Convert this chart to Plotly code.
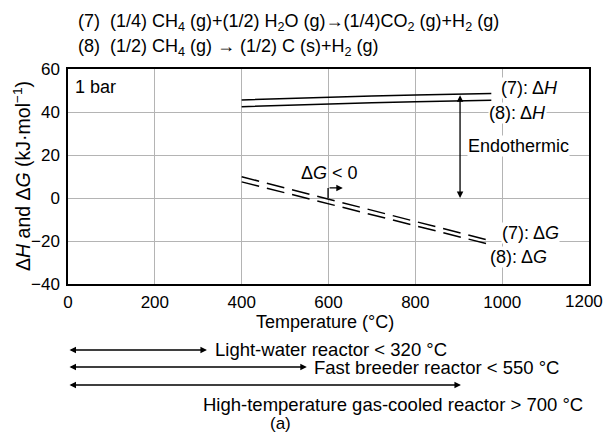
import plotly.graph_objects as go

# ---------------- data ----------------
temps = [400, 500, 600, 700, 800, 900, 975]
dH7 = [45.6, 46.3, 46.9, 47.4, 47.9, 48.3, 48.6]
dH8 = [42.5, 43.2, 43.8, 44.3, 44.8, 45.2, 45.5]
dG7 = [9.9, 4.7, -0.5, -5.7, -10.9, -16.1, -20.0]
dG8 = [7.5, 2.4, -2.7, -7.8, -12.9, -18.0, -21.8]

x_ticks = [0, 200, 400, 600, 800, 1000, 1200]
y_ticks = [-40, -20, 0, 20, 40, 60]

reactor_labels = ["Light-water reactor < 320 °C",
                  "Fast breeder reactor < 550 °C",
                  "High-temperature gas-cooled reactor > 700 °C"]
reactor_limits = [320, 550, 905]

NB = "\u00a0"
eq7 = ("(7)" + NB * 2 + "(1/4) CH<sub>4</sub> (g)+(1/2) H<sub>2</sub>O (g)→(1/4)CO<sub>2</sub> (g)+H<sub>2</sub> (g)")
eq8 = ("(8)" + NB * 2 + "(1/2) CH<sub>4</sub> (g) → (1/2) C (s)+H<sub>2</sub> (g)")

FONT = "Liberation Sans, Arial, sans-serif"
FS = 18
FS_EQ = 18
FS_BOT = 18.5
FS_TICK = 17

# the browser's default body margin (8 px on every side)
OFF = 8
W, H = 612 - 2 * OFF, 441 - 2 * OFF
# plot area in page pixels -> figure pixels
L, R, T, B = 68, 589, 69, 284
L, R, T, B = L - OFF, R - OFF, T - OFF, B - OFF


def px(xp):
    return (xp - OFF - L) / (R - L)


def py(yp):
    return (B - (yp - OFF)) / (B - T)


fig = go.Figure()
line_solid = dict(color="black", width=1.5)
line_dash = dict(color="black", width=1.5, dash="18px,8px")
fig.add_trace(go.Scatter(x=temps, y=dH7, mode="lines", line=line_solid, showlegend=False))
fig.add_trace(go.Scatter(x=temps, y=dH8, mode="lines", line=line_solid, showlegend=False))
fig.add_trace(go.Scatter(x=temps, y=dG7, mode="lines", line=line_dash, showlegend=False))
fig.add_trace(go.Scatter(x=temps, y=dG8, mode="lines", line=line_dash, showlegend=False))

ann = []
fnt = dict(family=FONT, size=FS, color="black")
fnt_eq = dict(family=FONT, size=FS_EQ, color="black")
fnt_bot = dict(family=FONT, size=FS_BOT, color="black")
fnt_tick = dict(family=FONT, size=FS_TICK, color="black")

# equations above
ann.append(dict(x=px(76), y=py(23), xref="paper", yref="paper", text=eq7, showarrow=False,
                xanchor="left", yanchor="middle", font=fnt_eq))
ann.append(dict(x=px(76), y=py(48), xref="paper", yref="paper", text=eq8, showarrow=False,
                xanchor="left", yanchor="middle", font=fnt_eq))

# axis titles
ann.append(dict(x=px(22), y=py(176), xref="paper", yref="paper",
                text="Δ<i>H</i> and Δ<i>G</i> (kJ·mol<sup>−1</sup>)", textangle=-90,
                showarrow=False, xanchor="center", yanchor="middle",
                font=dict(family=FONT, size=19.5, color="black")))
ann.append(dict(x=px(325), y=py(322), xref="paper", yref="paper", text="Temperature (°C)",
                showarrow=False, xanchor="center", yanchor="middle", font=fnt))

# last x tick label, kept inside the page edge
ann.append(dict(x=px(605), y=0, xref="paper", yref="paper", text=str(x_ticks[-1]),
                showarrow=False, xanchor="right", yanchor="top", yshift=-6, font=fnt_tick))


def lab(x, y, t, anchor="left", bg="white"):
    return dict(x=x, y=y, xref="x", yref="y", text=t, showarrow=False, xanchor=anchor,
                yanchor="middle", font=fnt, bgcolor=bg, borderpad=0)


ann.append(lab(14, 51.6, "1 bar", bg="rgba(0,0,0,0)"))
ann.append(lab(995, 51.2, "(7): Δ<i>H</i>"))
ann.append(lab(967, 39.5, "(8): Δ<i>H</i>"))
ann.append(lab(920, 24.2, "Endothermic"))
ann.append(lab(997, -16.3, "(7): Δ<i>G</i>"))
ann.append(lab(970, -27.4, "(8): Δ<i>G</i>"))
ann.append(lab(535, 11.6, "Δ<i>G</i> < 0", bg="rgba(0,0,0,0)"))

# endothermic double arrow
ann.append(dict(x=903, y=0, xref="x", yref="y", ax=903, ay=48.5, axref="x", ayref="y",
                showarrow=True, arrowhead=2, arrowside="end+start", arrowsize=1,
                arrowwidth=1.3, arrowcolor="black", text=""))
# dG<0 bracket arrow
ann.append(dict(x=633, y=4.7, xref="x", yref="y", ax=599, ay=4.7, axref="x", ayref="y",
                showarrow=True, arrowhead=2, arrowsize=1, arrowwidth=1.3,
                arrowcolor="black", text=""))

shapes = [dict(type="line", xref="x", yref="y", x0=599, x1=599, y0=0, y1=4.7,
               line=dict(color="black", width=1.3))]

# reactor ranges below the axis
arrow_y = [350, 367, 385]
for lim, yy in zip(reactor_limits, arrow_y):
    ann.append(dict(x=lim, y=py(yy), xref="x", yref="paper", ax=-(lim * (R - L) / 1200), ay=0,
                    text="", showarrow=True, arrowhead=2, arrowside="end+start",
                    arrowsize=1, arrowwidth=1.3, arrowcolor="black"))
ann.append(dict(x=reactor_limits[0] + 15, y=py(349), xref="x", yref="paper",
                text=reactor_labels[0], showarrow=False, xanchor="left", yanchor="middle", font=fnt_bot))
ann.append(dict(x=reactor_limits[1] + 12, y=py(367), xref="x", yref="paper",
                text=reactor_labels[1], showarrow=False, xanchor="left", yanchor="middle", font=fnt_bot))
ann.append(dict(x=px(585), y=py(404), xref="paper", yref="paper",
                text=reactor_labels[2], showarrow=False, xanchor="right", yanchor="middle", font=fnt_bot))
ann.append(dict(x=px(280), y=py(423), xref="paper", yref="paper",
                text="(a)", showarrow=False, xanchor="center", yanchor="middle",
                font=dict(family=FONT, size=17, color="black")))

axis_common = dict(showgrid=True, gridcolor="#b4b4b4", gridwidth=1.3, showline=True,
                   linecolor="black", linewidth=1.5, mirror=True, ticks="", zeroline=False,
                   automargin=False, tickfont=fnt_tick)

fig.update_layout(
    width=W, height=H,
    margin=dict(l=L, r=W - R, t=T, b=H - B, pad=0, autoexpand=False),
    paper_bgcolor="white", plot_bgcolor="white",
    xaxis=dict(range=[0, 1200], tickvals=x_ticks,
               ticktext=[str(v) for v in x_ticks[:-1]] + [""], **axis_common),
    yaxis=dict(range=[-40, 60], tickvals=y_ticks, tickformat="d", **axis_common),
    annotations=ann, shapes=shapes, showlegend=False,
    font=fnt,
)
fig.update_yaxes(ticklabelstandoff=3)
fig.update_xaxes(ticklabelstandoff=2)
fig.write_html("out.html")
